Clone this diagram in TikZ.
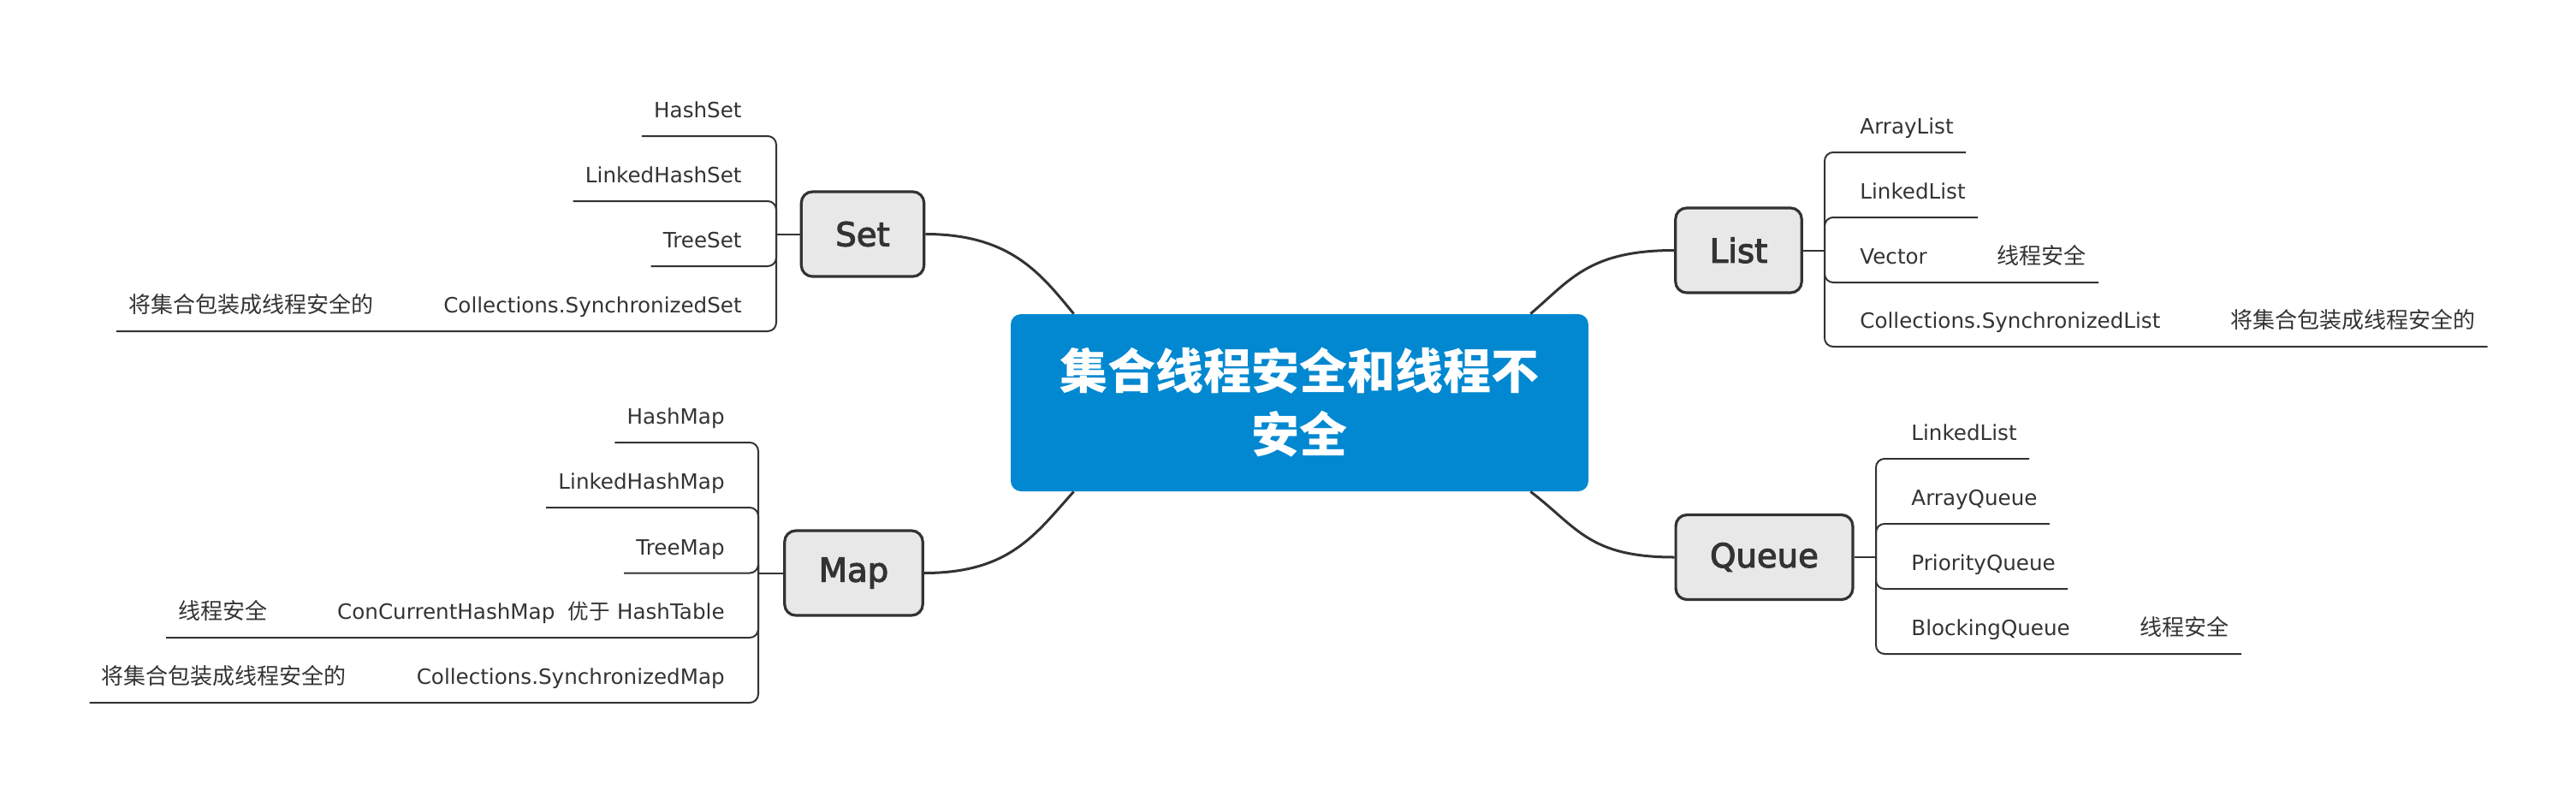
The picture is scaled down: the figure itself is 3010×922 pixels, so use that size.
\documentclass[tikz,border=0pt]{standalone}
\usepackage{fontspec}
\setmainfont{DejaVu Sans}
\newfontfamily\cjk{Noto Sans CJK SC}
\newfontfamily\topicfont{DejaVu Sans}[FakeBold=3]
\usetikzlibrary{positioning}
\definecolor{linegray}{RGB}{51,51,51}
\definecolor{topicgray}{RGB}{232,232,232}
\definecolor{rootblue}{RGB}{2,136,209}

\begin{document}
\begin{tikzpicture}[x=0.5pt,y=-0.5pt,
          rootbox/.style={fill=rootblue,rounded corners=6pt,minimum width=337.5pt,minimum height=103.5pt,
            text=white,align=center,font=\cjk\bfseries\fontsize{28pt}{37pt}\selectfont},
          topic/.style={draw=linegray,line width=1.6pt,fill=topicgray,rounded corners=6.5pt,
            minimum height=49.5pt,inner xsep=20pt,text=linegray,font=\topicfont\fontsize{19.3pt}{23pt}\selectfont},
          leaf/.style={inner xsep=7pt,inner ysep=0pt,text height=10pt,text depth=10.5pt,
            text=linegray,font=\fontsize{12.3pt}{15pt}\selectfont},
          cjkleaf/.style={leaf,font=\cjk\fontsize{13pt}{15pt}\selectfont},
          branch/.style={draw=linegray,line width=1.5pt},
          twig/.style={draw=linegray,line width=1pt,rounded corners=5pt}]

          \useasboundingbox (0,0) rectangle (3010,922);

          \node[rootbox] (root) at (1518.5,470.5) {集合线程安全和线程不\\安全};

          \node[topic] (set) at (1008,273.5) {Set};
          \node[topic] (map) at (997.5,669.5) {Map};
          \node[topic] (list) at (2031.5,292.5) {List};
          \node[topic] (queue) at (2061.5,651) {Queue};

          \draw[branch] (set.east) .. controls +(100,0) and +(-38,-46) .. ([xshift=37pt]root.north west);
          \draw[branch] (map.east) .. controls +(100,0) and +(-45,50) .. ([xshift=37pt]root.south west);
          \draw[branch] (list.west) .. controls +(-100,0) and +(46,-39) .. ([xshift=-34pt]root.north east);
          \draw[branch] (queue.west) .. controls +(-100,0) and +(55,42) .. ([xshift=-34pt]root.south east);

          % Set
          \coordinate (setfork) at (907,273.5);
          \node[leaf,anchor=south east] (hashset) at (881,159) {HashSet};
          \node[leaf,anchor=south east] (linkedhashset) at (881,235) {LinkedHashSet};
          \node[leaf,anchor=south east] (treeset) at (881,311) {TreeSet};
          \node[leaf,anchor=south east] (syncset) at (881,387) {Collections.SynchronizedSet};
          \node[cjkleaf,left=26.5pt of syncset] (syncsetnote) {将集合包装成线程安全的};

          \draw[twig] (set.west) -- (setfork);
          \draw[twig] (setfork) |- (hashset.south east) -- (hashset.south west);
          \draw[twig] (setfork) |- (linkedhashset.south east) -- (linkedhashset.south west);
          \draw[twig] (setfork) |- (treeset.south east) -- (treeset.south west);
          \draw[twig] (setfork) |- (syncset.south east) -- (syncsetnote.south west);

          % Map
          \coordinate (mapfork) at (886,669.5);
          \node[leaf,anchor=south east] (hashmap) at (861,517) {HashMap};
          \node[leaf,anchor=south east] (linkedhashmap) at (861,593) {LinkedHashMap};
          \node[leaf,anchor=south east] (treemap) at (861,669.5) {TreeMap};
          \node[leaf,anchor=south east] (concmap) at (861,745) {ConCurrentHashMap\ \ {\cjk 优于} HashTable};
          \node[cjkleaf,left=26.5pt of concmap] (concmapnote) {线程安全};
          \node[leaf,anchor=south east] (syncmap) at (861,821) {Collections.SynchronizedMap};
          \node[cjkleaf,left=26.5pt of syncmap] (syncmapnote) {将集合包装成线程安全的};

          \draw[twig] (map.west) -- (mapfork);
          \draw[twig] (mapfork) |- (hashmap.south east) -- (hashmap.south west);
          \draw[twig] (mapfork) |- (linkedhashmap.south east) -- (linkedhashmap.south west);
          \draw[twig] (mapfork) |- (treemap.south east) -- (treemap.south west);
          \draw[twig] (mapfork) |- (concmap.south east) -- (concmapnote.south west);
          \draw[twig] (mapfork) |- (syncmap.south east) -- (syncmapnote.south west);

          % List
          \coordinate (listfork) at (2132,292.5);
          \node[leaf,anchor=south west] (arraylist) at (2159,178) {ArrayList};
          \node[leaf,anchor=south west] (linkedlist) at (2159,254) {LinkedList};
          \node[leaf,anchor=south west] (vector) at (2159,330) {Vector};
          \node[cjkleaf,right=26.5pt of vector] (vectornote) {线程安全};
          \node[leaf,anchor=south west] (synclist) at (2159,405) {Collections.SynchronizedList};
          \node[cjkleaf,right=26.5pt of synclist] (synclistnote) {将集合包装成线程安全的};

          \draw[twig] (list.east) -- (listfork);
          \draw[twig] (listfork) |- (arraylist.south west) -- (arraylist.south east);
          \draw[twig] (listfork) |- (linkedlist.south west) -- (linkedlist.south east);
          \draw[twig] (listfork) |- (vector.south west) -- (vectornote.south east);
          \draw[twig] (listfork) |- (synclist.south west) -- (synclistnote.south east);

          % Queue
          \coordinate (queuefork) at (2192,651);
          \node[leaf,anchor=south west] (qlinkedlist) at (2219,536) {LinkedList};
          \node[leaf,anchor=south west] (arrayqueue) at (2219,612) {ArrayQueue};
          \node[leaf,anchor=south west] (priorityqueue) at (2219,688) {PriorityQueue};
          \node[leaf,anchor=south west] (blockingqueue) at (2219,764) {BlockingQueue};
          \node[cjkleaf,right=26.5pt of blockingqueue] (blockingnote) {线程安全};

          \draw[twig] (queue.east) -- (queuefork);
          \draw[twig] (queuefork) |- (qlinkedlist.south west) -- (qlinkedlist.south east);
          \draw[twig] (queuefork) |- (arrayqueue.south west) -- (arrayqueue.south east);
          \draw[twig] (queuefork) |- (priorityqueue.south west) -- (priorityqueue.south east);
          \draw[twig] (queuefork) |- (blockingqueue.south west) -- (blockingnote.south east);
        \end{tikzpicture}
\end{document}
